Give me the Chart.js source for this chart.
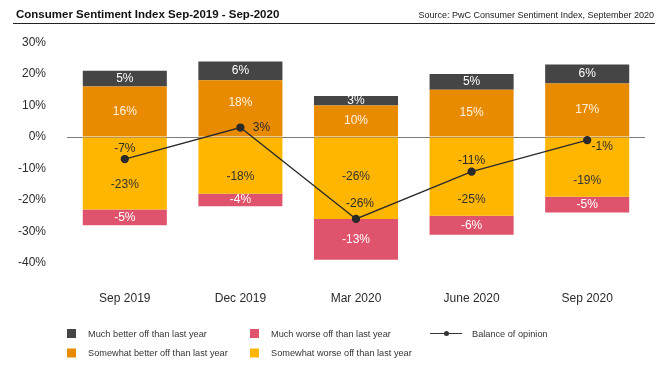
<!DOCTYPE html>
<html>
<head>
<meta charset="utf-8">
<script src="https://cdn.jsdelivr.net/npm/chart.js@4/dist/chart.umd.min.js"></script>
<style>
  html, body { margin: 0; padding: 0; background: #ffffff; }
  #wrap { position: relative; width: 670px; height: 377px; }
  canvas { display: block; }
</style>
</head>
<body>
<div id="wrap"><canvas id="c" width="670" height="377"></canvas></div>
<script>
// ---- Data ----
const categories = ['Sep 2019', 'Dec 2019', 'Mar 2020', 'June 2020', 'Sep 2020'];
const muchBetter = [5, 6, 3, 5, 6];
const somewhatBetter = [16, 18, 10, 15, 17];
const somewhatWorse = [-23, -18, -26, -25, -19];
const muchWorse = [-5, -4, -13, -6, -5];
const balance = [-7, 3, -26, -11, -1];
const yTicks = [30, 20, 10, 0, -10, -20, -30, -40];
const seriesNames = [
  'Much better off than last year',
  'Somewhat better off than last year',
  'Much worse off than last year',
  'Somewhat worse off than last year',
  'Balance of opinion'
];

// ---- Style ----
const FONT = '"Liberation Sans", Arial, Helvetica, sans-serif';
const C_DARK = '#454545';
const C_ORANGE = '#E88B00';
const C_YELLOW = '#FFB600';
const C_PINK = '#DF546C';
const TXT = '#2b2b2b';
// label placement along a segment (fraction from the segment's start toward its end)
const labelFrac = {
  sb: [0.5, 0.6, 0.5, 0.5, 0.5],
  sw: [0.65, 0.7, 0.48, 0.8, 0.72]
};
// balance label offsets (px) from the point
const balanceOffset = [[0, -10], [21, 0], [4, -15], [0, -11], [15, 7]];

const labelPlugin = {
  id: 'labels',
  afterDatasetsDraw(chart) {
    const ctx = chart.ctx;
    ctx.save();
    ctx.font = '12px ' + FONT;
    ctx.textAlign = 'center';
    ctx.textBaseline = 'middle';
    chart.data.datasets.forEach((ds, di) => {
      const meta = chart.getDatasetMeta(di);
      meta.data.forEach((el, j) => {
        const v = ds.data[j];
        const txt = v + '%';
        if (ds.type === 'line') {
          const o = balanceOffset[j];
          ctx.fillStyle = TXT;
          ctx.fillText(txt, el.x + o[0], el.y + o[1]);
        } else {
          let f = 0.5;
          if (ds.key && labelFrac[ds.key]) f = labelFrac[ds.key][j];
          const y = el.base + (el.y - el.base) * f;
          ctx.fillStyle = ds.labelColor;
          ctx.fillText(txt, el.x, y);
        }
      });
    });
    ctx.restore();
  },
  afterDraw(chart) {
    const ctx = chart.ctx;
    ctx.save();
    // title
    ctx.fillStyle = '#111';
    ctx.font = 'bold 11.5px ' + FONT;
    ctx.textAlign = 'left';
    ctx.textBaseline = 'alphabetic';
    ctx.fillText('Consumer Sentiment Index Sep-2019 - Sep-2020', 16, 18);
    ctx.font = '9px ' + FONT;
    ctx.textAlign = 'right';
    ctx.fillStyle = '#222';
    ctx.fillText('Source: PwC Consumer Sentiment Index, September 2020', 654, 18);
    ctx.strokeStyle = '#222';
    ctx.lineWidth = 1;
    ctx.beginPath();
    ctx.moveTo(13, 23.5);
    ctx.lineTo(655, 23.5);
    ctx.stroke();

    // legend
    ctx.font = '9.2px ' + FONT;
    ctx.textAlign = 'left';
    ctx.textBaseline = 'middle';
    const items = [
      { name: seriesNames[0], color: C_DARK, x: 67, y: 333.5 },
      { name: seriesNames[1], color: C_ORANGE, x: 67, y: 353 },
      { name: seriesNames[2], color: C_PINK, x: 250, y: 333.5 },
      { name: seriesNames[3], color: C_YELLOW, x: 250, y: 353 }
    ];
    items.forEach(it => {
      ctx.fillStyle = it.color;
      ctx.fillRect(it.x, it.y - 4.5, 9, 9);
      ctx.fillStyle = '#333';
      ctx.fillText(it.name, it.x + 21, it.y + 0.5);
    });
    ctx.strokeStyle = '#333';
    ctx.lineWidth = 1;
    ctx.beginPath();
    ctx.moveTo(430, 333.5);
    ctx.lineTo(462, 333.5);
    ctx.stroke();
    ctx.fillStyle = '#333';
    ctx.beginPath();
    ctx.arc(446.5, 333.5, 2.5, 0, Math.PI * 2);
    ctx.fill();
    ctx.fillText(seriesNames[4], 472, 334);
    ctx.restore();
  }
};

new Chart(document.getElementById('c'), {
  data: {
    labels: categories,
    datasets: [
      { type: 'line', label: seriesNames[4], data: balance, stack: 'line', order: 0,
        borderColor: '#2a2a2a', borderWidth: 1.3, pointRadius: 3.5, pointHoverRadius: 3.5,
        pointBackgroundColor: '#2a2a2a', pointBorderColor: '#2a2a2a', tension: 0, fill: false },
      { type: 'bar', label: seriesNames[1], data: somewhatBetter, stack: 's', order: 1, key: 'sb',
        backgroundColor: C_ORANGE, labelColor: '#FFF3E0' },
      { type: 'bar', label: seriesNames[0], data: muchBetter, stack: 's', order: 1, key: 'mb',
        backgroundColor: C_DARK, labelColor: '#ffffff' },
      { type: 'bar', label: seriesNames[3], data: somewhatWorse, stack: 's', order: 1, key: 'sw',
        backgroundColor: C_YELLOW, labelColor: '#333333' },
      { type: 'bar', label: seriesNames[2], data: muchWorse, stack: 's', order: 1, key: 'mw',
        backgroundColor: C_PINK, labelColor: '#ffffff' }
    ]
  },
  options: {
    responsive: false,
    animation: false,
    events: [],
    layout: { padding: { left: 0, right: 25, top: 42.5, bottom: 0 } },
    datasets: { bar: { barPercentage: 1, categoryPercentage: 0.727, borderWidth: 0 } },
    plugins: { legend: { display: false }, tooltip: { enabled: false }, title: { display: false } },
    scales: {
      x: {
        stacked: true,
        grid: { display: false, drawTicks: false },
        border: { display: false },
        ticks: { padding: 28, color: TXT, font: { family: FONT, size: 12 }, maxRotation: 0 },
        afterFit(scale) { scale.height = 114; }
      },
      y: {
        stacked: true,
        min: -40, max: 30,
        z: 1,
        afterBuildTicks(scale) { scale.ticks = yTicks.map(v => ({ value: v })); },
        grid: {
          drawTicks: false,
          lineWidth: 1,
          color: (c) => (c.tick && c.tick.value === 0) ? '#7a7a7a' : 'rgba(0,0,0,0)'
        },
        border: { display: false },
        ticks: { padding: 21, color: TXT, font: { family: FONT, size: 12 },
          callback: (v) => v + '%' },
        afterFit(scale) { scale.width = 67; }
      }
    }
  },
  plugins: [labelPlugin]
});
</script>
</body>
</html>
